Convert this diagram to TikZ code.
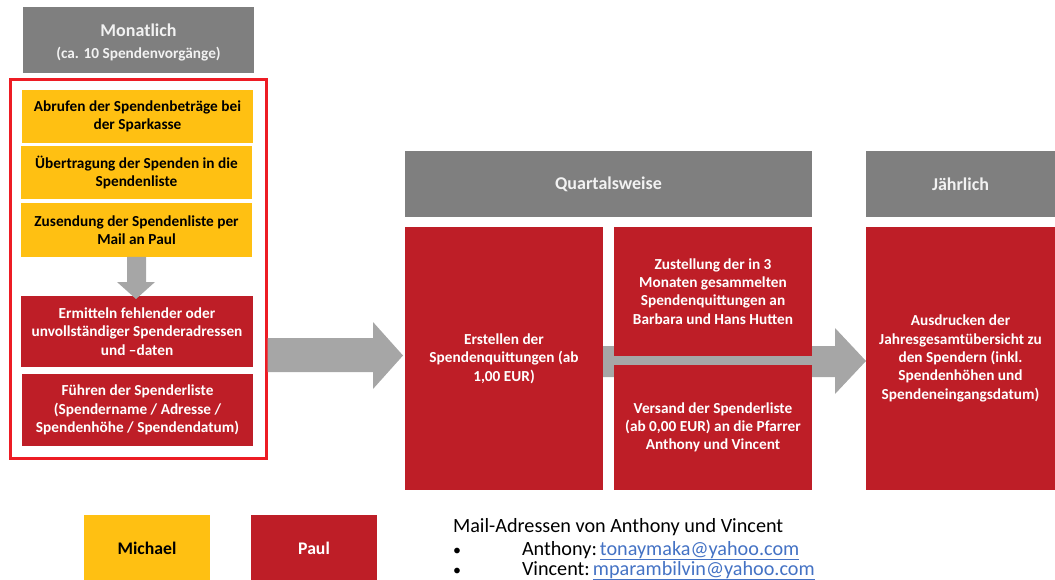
\documentclass[tikz,border=0pt]{standalone}
\usepackage{fontspec}
\setmainfont{Carlito}
\usetikzlibrary{calc}
\definecolor{hdrgray}{RGB}{127,127,127}
\definecolor{boxyellow}{RGB}{255,192,18}
\definecolor{boxred}{RGB}{190,30,39}
\definecolor{arrgray}{RGB}{166,166,166}
\definecolor{outred}{RGB}{237,28,36}
\definecolor{linkblue}{RGB}{68,114,196}
\definecolor{hdrtext}{RGB}{242,242,242}
\tikzset{
  base/.style={rectangle, inner sep=0pt, outer sep=0pt, align=center, font=\bfseries\fontsize{15.3}{18.3}\selectfont},
  hdr/.style={base, fill=hdrgray, text=hdrtext},
  ybox/.style={base, fill=boxyellow, text=black},
  rbox/.style={base, fill=boxred, text=white},
  blockarrow/.style={fill=arrgray, draw=none},
  legend/.style={base, font=\bfseries\fontsize{17.7}{20}\selectfont},
  plain/.style={inner sep=0pt, outer sep=0pt, anchor=base west, font=\fontsize{20.2}{24}\selectfont},
  link/.style={plain, text=linkblue}
}
\begin{document}
\begin{tikzpicture}[x=1pt,y=-1pt]
\useasboundingbox (0,0) rectangle (1055,580);

% gray arrow behind quarterly boxes
\fill[blockarrow] (603,346) -- (835,346) -- (835,328) -- (866,361) -- (835,394) -- (835,377) -- (603,377) -- cycle;

% Monthly column
\node[hdr, minimum width=231pt, minimum height=66pt] (mon) at (138.5,40) {};
\node[base, text=hdrtext, anchor=center] (monlabel) at ($(mon.center)+(0,2.5)$)
  {\fontsize{18}{20}\selectfont Monatlich\\[4pt]\fontsize{15.3}{18}\selectfont (ca. 10 Spendenvorgänge)};
\node[draw=outred, line width=3pt, minimum width=256pt, minimum height=378pt] (frame) at (138,269) {};
\node[ybox, minimum width=231pt, minimum height=53pt] (y1) at (137.5,116.5) {Abrufen der Spendenbeträge bei\\der Sparkasse};
\node[ybox, minimum width=231pt, minimum height=53pt] (y2) at (136.5,172.5) {Übertragung der Spenden in die\\Spendenliste};
\node[ybox, minimum width=231pt, minimum height=54pt] (y3) at (136.5,230) {Zusendung der Spendenliste per\\Mail an Paul};
\node[rbox, minimum width=232pt, minimum height=71pt] (r1) at (137,331.5) {Ermitteln fehlender oder\\unvollständiger Spenderadressen\\und –daten};
\node[rbox, minimum width=231pt, minimum height=72pt] (r2) at (137.5,410) {Führen der Spenderliste\\(Spendername / Adresse /\\Spendenhöhe / Spendendatum)};

% down arrow
\fill[blockarrow] (y3.south -| 127,0) -- (127,282) -- (117,282) -- (136,299) -- (155,282) -- (146,282) -- (y3.south -| 146,0) -- cycle;

% big right arrow
\fill[blockarrow] (frame.east |- 0,338) -- (373,338) -- (373,322) -- (403,355.5) -- (373,389) -- (373,372) -- (frame.east |- 0,372) -- cycle;

% Quarterly
\node[hdr, minimum width=407pt, minimum height=66pt, font=\bfseries\fontsize{18}{20}\selectfont] (quart) at (608.5,184) {Quartalsweise};
\node[rbox, minimum width=198pt, minimum height=263pt] (erst) at (504,358.5) {Erstellen der\\Spendenquittungen (ab\\1,00 EUR)};
\node[rbox, minimum width=198pt, minimum height=129pt] (zust) at (713,291.5) {Zustellung der in 3\\Monaten gesammelten\\Spendenquittungen an\\Barbara und Hans Hutten};
\node[rbox, minimum width=198pt, minimum height=125pt] (vers) at (713,427.5) {Versand der Spenderliste\\(ab 0,00 EUR) an die Pfarrer\\Anthony und Vincent};

% Yearly
\node[hdr, minimum width=189pt, minimum height=66pt, font=\bfseries\fontsize{18}{20}\selectfont] (jahr) at (960.5,184) {Jährlich};
\node[rbox, minimum width=189pt, minimum height=263pt] (ausd) at (960.5,358.5) {Ausdrucken der\\Jahresgesamtübersicht zu\\den Spendern (inkl.\\Spendenhöhen und\\Spendeneingangsdatum)};

% Legend
\node[legend, fill=boxyellow, text=black, minimum width=126pt, minimum height=66pt] (mich) at (147,548) {Michael};
\node[legend, fill=boxred, text=white, minimum width=126pt, minimum height=66pt] (paul) at (314,548) {Paul};

% Mail text
\node[plain] (mail) at (453,532) {Mail-Adressen von Anthony und Vincent};
\node[plain, font=\fontsize{16}{20}\selectfont] (b1) at (453,555) {\textbullet};
\node[plain, font=\fontsize{16}{20}\selectfont] (b2) at (453,575) {\textbullet};
\node[plain] (ant) at (522,555) {Anthony:\hspace{3pt}\textcolor{linkblue}{\underline{tonaymaka@yahoo.com}}};
\node[plain] (vin) at (522,575) {Vincent:\hspace{3pt}\textcolor{linkblue}{\underline{mparambilvin@yahoo.com}}};
\end{tikzpicture}
\end{document}
